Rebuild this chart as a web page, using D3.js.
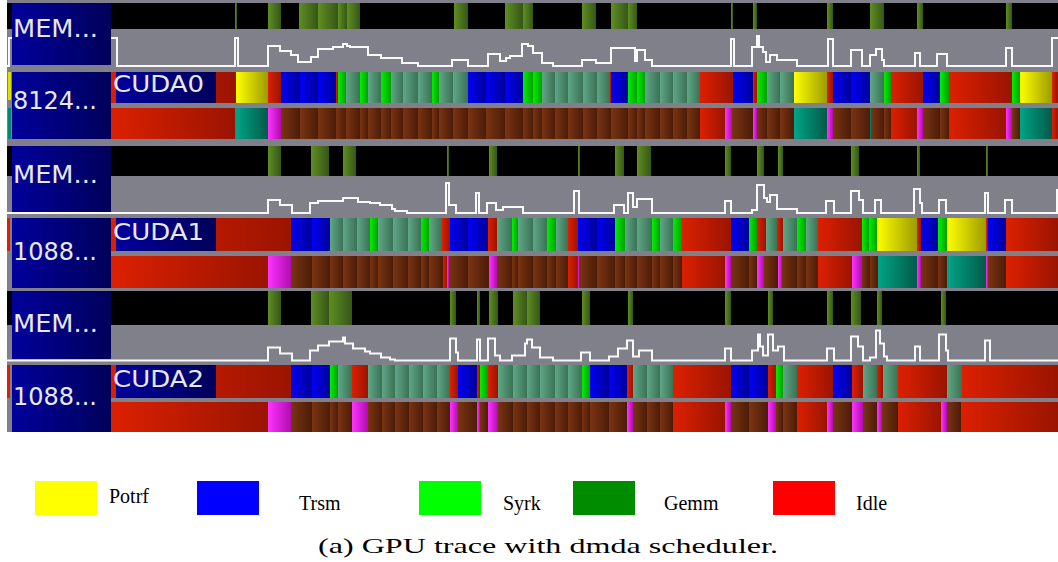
<!DOCTYPE html>
<html><head><meta charset="utf-8">
<script src="https://cdn.jsdelivr.net/npm/d3@7"></script>
<style>body{margin:0;background:#fff;overflow:hidden}</style>
</head><body>
<svg id="chart" width="1058" height="562"></svg>
<script>
// ---------------- DATA ----------------
const legendLabels = ["Potrf", "Trsm", "Syrk", "Gemm", "Idle"];
const legendColors = ["#ffff00", "#0000ff", "#00ff00", "#008c00", "#ff0000"];
const caption = "(a) GPU trace with dmda scheduler.";
const deviceNames = ["CUDA0", "CUDA1", "CUDA2"];
const memNames = ["MEM...", "MEM...", "MEM..."];
const nodeNames = ["8124...", "1088...", "1088..."];
const timeEnd = 1058;

// task rows: [start, task]  (segment ends at next start)
const cuda0Tasks = [[111,"idle"],[236,"potrf"],[268,"idle"],[281,"trsm"],[300,"trsm"],[318,"trsm"],[336,"idle"],[338,"syrk"],[346,"gemm"],[360,"syrk"],[368,"gemm"],[381,"syrk"],[391,"gemm"],[403,"gemm"],[418,"gemm"],[432,"syrk"],[439,"gemm"],[453,"gemm"],[468,"trsm"],[486,"trsm"],[505,"trsm"],[523,"syrk"],[533,"syrk"],[542,"gemm"],[555,"gemm"],[568,"gemm"],[583,"gemm"],[597,"gemm"],[610,"idle"],[611,"trsm"],[628,"syrk"],[637,"syrk"],[645,"gemm"],[660,"gemm"],[673,"gemm"],[687,"gemm"],[700,"idle"],[733,"trsm"],[753,"idle"],[757,"syrk"],[767,"gemm"],[780,"gemm"],[794,"potrf"],[827,"idle"],[833,"trsm"],[851,"trsm"],[870,"gemm"],[884,"syrk"],[891,"idle"],[923,"trsm"],[940,"syrk"],[949,"idle"],[1012,"syrk"],[1020,"potrf"],[1052,"idle"]];
const cuda1Tasks = [[111,"idle"],[291,"trsm"],[312,"trsm"],[330,"gemm"],[343,"gemm"],[357,"gemm"],[370,"syrk"],[378,"gemm"],[393,"gemm"],[408,"gemm"],[421,"syrk"],[429,"gemm"],[442,"idle"],[450,"trsm"],[468,"trsm"],[488,"idle"],[497,"gemm"],[512,"syrk"],[518,"gemm"],[533,"gemm"],[547,"syrk"],[556,"gemm"],[568,"idle"],[578,"trsm"],[597,"trsm"],[615,"syrk"],[625,"gemm"],[637,"gemm"],[652,"syrk"],[660,"gemm"],[673,"syrk"],[682,"idle"],[731,"trsm"],[749,"syrk"],[757,"idle"],[766,"gemm"],[777,"idle"],[783,"gemm"],[797,"syrk"],[806,"gemm"],[818,"idle"],[862,"syrk"],[869,"syrk"],[877,"potrf"],[917,"idle"],[921,"trsm"],[938,"syrk"],[947,"potrf"],[986,"idle"],[988,"trsm"],[1006,"idle"]];
const cuda2Tasks = [[111,"idle"],[291,"trsm"],[312,"trsm"],[330,"syrk"],[338,"gemm"],[352,"idle"],[368,"gemm"],[382,"gemm"],[395,"gemm"],[409,"gemm"],[423,"gemm"],[437,"gemm"],[450,"idle"],[458,"trsm"],[477,"idle"],[480,"syrk"],[488,"idle"],[498,"gemm"],[513,"gemm"],[527,"gemm"],[540,"gemm"],[555,"gemm"],[568,"gemm"],[582,"syrk"],[590,"trsm"],[609,"trsm"],[627,"idle"],[633,"gemm"],[647,"gemm"],[660,"gemm"],[673,"idle"],[731,"trsm"],[749,"trsm"],[768,"idle"],[776,"syrk"],[783,"gemm"],[797,"idle"],[833,"trsm"],[852,"idle"],[863,"gemm"],[877,"idle"],[883,"gemm"],[898,"idle"],[947,"gemm"],[962,"idle"]];

// worker state rows: [start, state]
const cuda0States = [[111,"idle"],[235,"fetch"],[236,"callback"],[268,"fetch"],[281,"exec"],[300,"exec"],[318,"exec"],[336,"exec"],[346,"exec"],[360,"exec"],[368,"exec"],[381,"exec"],[391,"exec"],[403,"exec"],[418,"exec"],[432,"exec"],[439,"exec"],[453,"exec"],[468,"exec"],[486,"exec"],[505,"exec"],[523,"exec"],[533,"exec"],[542,"exec"],[555,"exec"],[568,"exec"],[583,"exec"],[597,"exec"],[611,"exec"],[628,"exec"],[637,"exec"],[645,"exec"],[660,"exec"],[673,"exec"],[687,"exec"],[700,"idle"],[725,"fetch"],[732,"exec"],[753,"fetch"],[757,"exec"],[767,"exec"],[780,"exec"],[794,"callback"],[827,"fetch"],[833,"exec"],[851,"exec"],[870,"callback"],[871,"exec"],[884,"exec"],[891,"idle"],[917,"fetch"],[923,"exec"],[940,"exec"],[949,"idle"],[1006,"fetch"],[1012,"exec"],[1020,"callback"],[1052,"idle"]];
const cuda1States = [[111,"idle"],[268,"fetch"],[291,"exec"],[312,"exec"],[330,"exec"],[343,"exec"],[357,"exec"],[370,"exec"],[378,"exec"],[393,"exec"],[408,"exec"],[421,"exec"],[429,"exec"],[443,"idle"],[447,"fetch"],[449,"exec"],[468,"exec"],[489,"fetch"],[497,"exec"],[512,"exec"],[518,"exec"],[533,"exec"],[547,"exec"],[556,"exec"],[568,"idle"],[578,"fetch"],[579,"exec"],[597,"exec"],[615,"exec"],[625,"exec"],[637,"exec"],[652,"exec"],[660,"exec"],[673,"exec"],[682,"idle"],[725,"fetch"],[731,"exec"],[749,"exec"],[757,"fetch"],[764,"exec"],[778,"fetch"],[782,"exec"],[797,"exec"],[806,"exec"],[818,"idle"],[852,"fetch"],[862,"exec"],[870,"exec"],[878,"callback"],[917,"fetch"],[921,"exec"],[938,"exec"],[947,"callback"],[986,"fetch"],[988,"exec"],[1006,"idle"]];
const cuda2States = [[111,"idle"],[268,"fetch"],[291,"exec"],[312,"exec"],[330,"exec"],[338,"exec"],[352,"fetch"],[368,"exec"],[382,"exec"],[395,"exec"],[409,"exec"],[423,"exec"],[437,"exec"],[450,"fetch"],[458,"exec"],[477,"fetch"],[480,"exec"],[488,"fetch"],[498,"exec"],[513,"exec"],[527,"exec"],[540,"exec"],[555,"exec"],[568,"exec"],[582,"exec"],[590,"exec"],[609,"exec"],[627,"fetch"],[633,"exec"],[647,"exec"],[660,"exec"],[673,"idle"],[725,"fetch"],[731,"exec"],[749,"exec"],[768,"fetch"],[776,"exec"],[783,"exec"],[797,"idle"],[827,"fetch"],[833,"exec"],[852,"fetch"],[863,"exec"],[877,"fetch"],[882,"exec"],[898,"idle"],[941,"fetch"],[947,"exec"],[961,"idle"]];

// memory node transfer intervals: [start, end]
const mem0Transfers = [[235,237],[268,281],[299,318],[318,338],[338,347],[347,360],[454,468],[505,523],[523,533],[582,596],[611,628],[628,637],[731,733],[753,757],[827,833],[870,884],[917,923],[1006,1012]];
const mem1Transfers = [[268,281],[311,329],[343,356],[447,449],[489,497],[578,579],[615,624],[637,651],[725,731],[757,764],[778,783],[851,859],[917,920],[986,987]];
const mem2Transfers = [[268,281],[311,329],[329,352],[450,456],[477,480],[489,498],[513,527],[527,540],[582,590],[628,633],[725,731],[768,773],[827,833],[851,861],[877,882],[941,946]];

// memory usage (step after): [time, value]
const mem0Usage = [[7,0],[9,28],[117,0],[235,28],[238,0],[268,20],[280,15],[291,11],[298,4],[311,9],[318,17],[333,19],[343,22],[347,20],[350,19],[368,11],[381,8],[402,3],[418,0],[452,6],[468,0],[488,12],[500,5],[506,8],[510,10],[522,22],[528,20],[533,13],[542,3],[553,0],[582,6],[596,3],[611,18],[635,5],[637,16],[645,6],[652,0],[731,27],[734,0],[752,19],[757,30],[759,19],[763,14],[766,4],[770,11],[777,6],[797,0],[828,27],[833,0],[851,16],[862,0],[870,11],[876,17],[882,6],[884,0],[915,13],[920,0],[937,12],[947,0],[1006,18],[1012,0],[1052,28],[1058,28]];
const mem1Usage = [[7,0],[268,13],[280,8],[292,0],[310,10],[318,12],[329,12],[343,15],[358,11],[370,10],[380,8],[392,4],[395,2],[407,0],[446,30],[449,8],[456,0],[476,20],[479,0],[487,10],[496,3],[503,6],[523,0],[574,22],[579,0],[614,8],[624,0],[628,20],[633,6],[637,14],[652,0],[725,12],[731,0],[752,3],[757,28],[764,15],[767,11],[770,18],[777,4],[797,0],[826,12],[834,0],[851,22],[859,13],[863,0],[875,13],[881,0],[914,24],[920,10],[922,0],[939,13],[946,0],[985,20],[988,0],[1005,13],[1012,0],[1057,23],[1058,23]];
const mem2Usage = [[7,0],[268,13],[280,7],[292,0],[310,10],[318,15],[329,19],[343,23],[345,17],[353,12],[365,9],[370,7],[381,3],[390,1],[395,0],[450,22],[456,8],[458,0],[477,21],[480,0],[488,22],[495,5],[500,0],[512,5],[525,17],[527,21],[532,13],[540,3],[553,0],[581,8],[590,0],[609,4],[618,12],[627,20],[633,4],[639,10],[652,0],[725,12],[731,0],[752,10],[758,26],[760,14],[763,5],[768,26],[773,10],[778,14],[784,0],[827,12],[834,0],[851,24],[858,14],[863,0],[870,3],[876,30],[880,17],[884,4],[887,0],[915,14],[920,0],[939,26],[946,10],[948,0],[985,20],[990,0],[1058,0]];

const taskRows = [cuda0Tasks, cuda1Tasks, cuda2Tasks];
const stateRows = [cuda0States, cuda1States, cuda2States];
const transferRows = [mem0Transfers, mem1Transfers, mem2Transfers];
const usageRows = [mem0Usage, mem1Usage, mem2Usage];

// ---------------- STYLE / LAYOUT ----------------
const palette = {
  idle: ["#dc2000", "#9a1400"],
  potrf: ["#ffff00", "#9c9c00"],
  trsm: ["#0000f5", "#00009a"],
  syrk: ["#00f000", "#00a000"],
  gemm: ["#5fa787", "#3a7254"],
  exec: ["#7a3412", "#4c1c08"],
  fetch: ["#ff34ff", "#b00cb0"],
  callback: ["#00a487", "#005a48"],
  transfer: ["#5e8e24", "#365616"],
  panel: ["#00009c", "#00005a"]
};
const groups = [
  {black:[3,29], base:66, task:[72,103], state:[108,139], memBox:[3,65], nodeBox:[72,139], memY:37, nodeY:109, devY:92},
  {black:[146,176], base:213, task:[218,251], state:[256,288], memBox:[146,212], nodeBox:[218,288], memY:183, nodeY:260, devY:240},
  {black:[291,325], base:360.5, task:[365,398], state:[402,432], memBox:[291,359], nodeBox:[365,432], memY:332, nodeY:405, devY:387}
];

const svg = d3.select("#chart");
const defs = svg.append("defs");
Object.entries(palette).forEach(([k, c]) => {
  const g = defs.append("linearGradient").attr("id", "g-" + k)
    .attr("x1", 0).attr("x2", 1).attr("y1", 0).attr("y2", 0);
  g.append("stop").attr("offset", 0).attr("stop-color", c[0]);
  g.append("stop").attr("offset", 1).attr("stop-color", c[1]);
});

const x = d3.scaleLinear().domain([111, timeEnd]).range([111, 1058]);

// background of trace area
svg.append("rect").attr("x", 7).attr("y", 0).attr("width", 1051).attr("height", 432).attr("fill", "#80808a");

function toSegments(list) {
  return list.map((d, i) => ({start: d[0], end: i + 1 < list.length ? list[i + 1][0] : timeEnd, type: d[1]}));
}

const labelFont = "'DejaVu Sans', Verdana, sans-serif";

groups.forEach((G, gi) => {
  const g = svg.append("g");
  // black transfer band
  g.append("rect").attr("x", 7).attr("y", G.black[0]).attr("width", 1051).attr("height", G.black[1] - G.black[0]).attr("fill", "#000");
  g.selectAll("rect.tr").data(transferRows[gi]).join("rect").attr("class", "tr")
    .attr("x", d => x(d[0])).attr("y", G.black[0])
    .attr("width", d => Math.max(2, x(d[1]) - x(d[0]))).attr("height", G.black[1] - G.black[0])
    .attr("fill", "url(#g-transfer)");

  // memory usage line
  const y = d3.scaleLinear().domain([0, 30]).range([G.base, G.base - 30]);
  const line = d3.line().x(d => x(d[0])).y(d => y(d[1])).curve(d3.curveStepAfter);
  g.append("path").datum(usageRows[gi]).attr("d", line)
    .attr("fill", "none").attr("stroke", "#ffffff").attr("stroke-width", 2).attr("stroke-opacity", 0.95);

  // task row
  g.selectAll("rect.task").data(toSegments(taskRows[gi])).join("rect").attr("class", "task")
    .attr("x", d => x(d.start)).attr("y", G.task[0])
    .attr("width", d => x(d.end) - x(d.start)).attr("height", G.task[1] - G.task[0])
    .attr("fill", d => "url(#g-" + d.type + ")");
  // state row
  g.selectAll("rect.state").data(toSegments(stateRows[gi])).join("rect").attr("class", "state")
    .attr("x", d => x(d.start)).attr("y", G.state[0])
    .attr("width", d => x(d.end) - x(d.start)).attr("height", G.state[1] - G.state[0])
    .attr("fill", d => "url(#g-" + d.type + ")");

  // label panels
  g.append("rect").attr("x", 12).attr("y", G.memBox[0]).attr("width", 99).attr("height", G.memBox[1] - G.memBox[0]).attr("fill", "url(#g-panel)");
  g.append("rect").attr("x", 12).attr("y", G.nodeBox[0]).attr("width", 99).attr("height", G.nodeBox[1] - G.nodeBox[0]).attr("fill", "url(#g-panel)");
  g.append("rect").attr("x", 116).attr("y", G.task[0]).attr("width", 100).attr("height", G.task[1] - G.task[0]).attr("fill", "url(#g-panel)");

  g.append("text").attr("x", 13).attr("y", G.memY).text(memNames[gi])
    .attr("font-family", labelFont).attr("font-size", 24).attr("fill", "#e8e8f0")
    .attr("textLength", 85).attr("lengthAdjust", "spacingAndGlyphs");
  g.append("text").attr("x", 13).attr("y", G.nodeY).text(nodeNames[gi])
    .attr("font-family", labelFont).attr("font-size", 24).attr("fill", "#e8e8f0")
    .attr("textLength", 84).attr("lengthAdjust", "spacingAndGlyphs");
  g.append("text").attr("x", 113).attr("y", G.devY).text(deviceNames[gi])
    .attr("font-family", labelFont).attr("font-size", 23).attr("fill", "#e8e8f0")
    .attr("textLength", 91).attr("lengthAdjust", "spacingAndGlyphs");
});

// small preview strips at far left
svg.append("rect").attr("x", 8).attr("y", 72).attr("width", 3).attr("height", 28).attr("fill", "#e0e000");
svg.append("rect").attr("x", 8).attr("y", 108).attr("width", 3).attr("height", 31).attr("fill", "#008870");
svg.append("rect").attr("x", 7).attr("y", 218).attr("width", 3).attr("height", 33).attr("fill", "#dc2000");
svg.append("rect").attr("x", 7).attr("y", 365).attr("width", 3).attr("height", 33).attr("fill", "#dc2000");

// ---------------- LEGEND ----------------
const legendX = [35, 197, 419, 573, 773];
const legendTextX = [109, 299, 503, 664, 856];
const legendTextY = [503, 510, 510, 510, 510];
const lg = svg.append("g");
lg.selectAll("rect").data(legendLabels).join("rect")
  .attr("x", (d, i) => legendX[i]).attr("y", 481).attr("width", 62).attr("height", 34)
  .attr("fill", (d, i) => legendColors[i]);
lg.selectAll("text").data(legendLabels).join("text")
  .attr("x", (d, i) => legendTextX[i]).attr("y", (d, i) => legendTextY[i])
  .text(d => d).attr("font-family", "'Liberation Serif', 'DejaVu Serif', serif").attr("font-size", 20).attr("fill", "#000");

svg.append("text").attr("x", 548).attr("y", 553).attr("text-anchor", "middle").text(caption)
  .attr("font-family", "'Liberation Serif', 'DejaVu Serif', serif").attr("font-size", 22).attr("fill", "#000")
  .attr("textLength", 460).attr("lengthAdjust", "spacingAndGlyphs");
</script>
</body></html>
